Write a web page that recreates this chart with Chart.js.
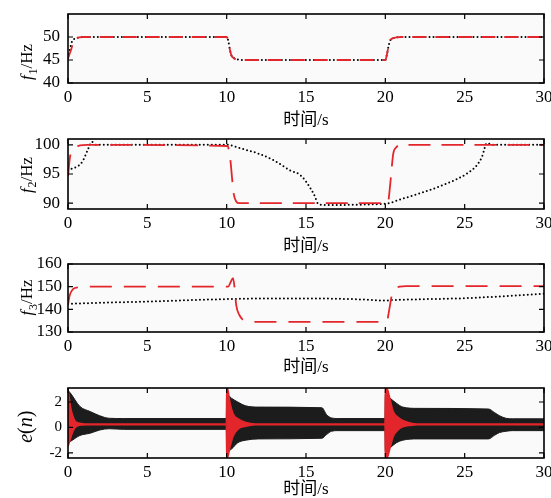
<!DOCTYPE html>
<html>
<head>
<meta charset="utf-8">
<script src="https://cdn.jsdelivr.net/npm/chart.js@4"></script>
<style>
html, body { margin: 0; padding: 0; background: #fff; }
#wrap { position: relative; width: 551px; height: 498px; overflow: hidden; }
canvas { position: absolute; left: 0; }
</style>
</head>
<body>
<div id="wrap">
  <canvas id="c1" width="551" height="129" style="top:0px"></canvas>
  <canvas id="c2" width="551" height="130" style="top:125px"></canvas>
  <canvas id="c3" width="551" height="126" style="top:250px"></canvas>
  <canvas id="c4" width="551" height="124" style="top:374px"></canvas>
</div>
<script>
const xTicks = [0, 5, 10, 15, 20, 25, 30];

// f1
const f1Ticks = [40, 45, 50];
const f1RefT = [0, 0.1, 0.23, 0.4, 0.7, 1.0, 10.0, 10.1, 10.2, 10.3, 10.45, 10.7, 11.0, 20.0, 20.1, 20.2, 20.3, 20.45, 20.7, 21.0, 30];
const f1Ref  = [45.5, 47.0, 48.8, 49.6, 49.9, 50, 50, 49.2, 47.3, 46.0, 45.4, 45.1, 45, 45, 46.2, 48.0, 49.2, 49.7, 49.9, 50, 50];
const f1EstT = [0, 0.1, 0.2, 0.3, 0.45, 0.7, 1.0, 10.0, 10.1, 10.2, 10.3, 10.45, 10.7, 11.0, 20.0, 20.1, 20.2, 20.3, 20.45, 20.7, 21.0, 30];
const f1Est  = [45.3, 46.3, 47.3, 48.5, 49.6, 49.9, 50, 50, 49.2, 47.3, 46.0, 45.4, 45.1, 45, 45, 46.2, 48.0, 49.2, 49.7, 49.9, 50, 50];

// f2
const f2Ticks = [90, 95, 100];
const f2RefT = [0, 0.3, 0.6, 0.9, 1.1, 1.3, 1.5, 1.8, 10.0, 11, 12, 13, 14, 14.6, 15, 15.5, 15.8, 16.2, 20.0, 21, 22.2, 23.9, 25.1, 25.8, 26.1, 26.4, 26.8, 30];
const f2Ref  = [95.6, 96.0, 96.3, 97.1, 98.2, 99.5, 100.5, 100, 100, 99.3, 98.5, 97.3, 95.6, 94.9, 93.7, 91.5, 89.8, 89.7, 89.9, 90.7, 91.7, 93.4, 95, 96.6, 98, 100.3, 100, 100];
const f2EstT = [0, 0.13, 0.25, 0.44, 0.76, 1.2, 10.05, 10.15, 10.25, 10.35, 10.45, 10.6, 10.8, 20.15, 20.3, 20.4, 20.5, 20.7, 21.0, 30];
const f2Est  = [94.6, 98.0, 98.9, 99.5, 99.9, 100, 99.8, 99.0, 97.0, 94.0, 91.5, 90.3, 90, 90, 93, 96, 98.5, 99.6, 100, 100];

// f3
const f3Ticks = [130, 140, 150, 160];
const f3RefT = [0, 2.5, 5, 7.5, 10, 12.7, 15, 18, 20, 20.5, 22, 25, 27.5, 30];
const f3Ref  = [142.4, 143, 143.4, 144, 144.5, 144.8, 144.8, 144.5, 143.9, 144.1, 144.4, 144.9, 145.8, 146.9];
const f3EstT = [0, 0.1, 0.3, 0.6, 1.0, 10.1, 10.25, 10.4, 10.5, 10.6, 10.8, 11.2, 11.6, 20.1, 20.2, 20.3, 20.4, 20.6, 20.9, 21.3, 30];
const f3Est  = [142, 146, 148.8, 149.7, 150, 150, 152, 153.8, 149.4, 142, 137.5, 134.8, 134.5, 134.5, 138, 142, 146, 149, 150, 150.2, 150.2];

// e(n): envelope of the error band (black) and of the red error
const eTicks = [-2, 0, 2];
const eBandT  = [0, 0.15, 0.75, 1.4, 2.0, 2.6, 3.5, 9.98, 10.0, 10.3, 10.7, 11.2, 12, 16.0, 16.3, 16.6, 17.0, 19.98, 20.0, 20.3, 20.7, 21.1, 22, 26.5, 26.9, 27.2, 27.6, 28, 30];
const eBandHi = [2.9, 2.7, 1.65, 1.25, 0.92, 0.72, 0.7, 0.7, 2.6, 2.3, 2.0, 1.7, 1.6, 1.55, 1.0, 0.75, 0.7, 0.7, 2.6, 2.3, 1.9, 1.6, 1.5, 1.45, 1.15, 0.92, 0.72, 0.68, 0.68];
const eBandLo = [-1.2, -1.1, -0.63, -0.45, -0.2, -0.1, -0.15, -0.15, -1.9, -1.7, -1.2, -1.0, -0.9, -0.85, -0.55, -0.3, -0.25, -0.25, -1.9, -1.6, -1.2, -1.0, -0.9, -0.9, -0.6, -0.4, -0.3, -0.25, -0.25];
const eRedT  = [0, 0.05, 0.15, 0.28, 0.45, 0.65, 0.9, 1.2, 9.98, 10.0, 10.05, 10.2, 10.4, 10.7, 11.2, 11.8, 19.98, 20.0, 20.1, 20.3, 20.5, 20.8, 21.1, 21.5, 22, 30];
const eRedHi = [3.1, 2.6, 1.7, 1.0, 0.5, 0.35, 0.3, 0.28, 0.28, 3.1, 3.1, 2.0, 1.1, 0.7, 0.4, 0.28, 0.28, 3.1, 3.1, 2.2, 1.25, 0.8, 0.55, 0.38, 0.28, 0.28];
const eRedLo = [-1.5, -1.3, -0.9, -0.4, 0.0, 0.15, 0.2, 0.22, 0.22, -2.4, -2.4, -1.6, -0.7, -0.15, 0.1, 0.22, 0.22, -2.4, -2.4, -1.6, -0.7, -0.2, 0.05, 0.15, 0.22, 0.22];

const serif = '"Liberation Serif", "Times New Roman", serif';
const red = '#e3262b';
const band = '#1c1c1c';

function pts(t, v) {
  return t.map((x, i) => ({x: x, y: v[i]}));
}

function partFont(p, size) {
  const s = p.sub ? size * 0.7 : size;
  return (p.italic ? 'italic ' : '') + s + 'px ' + serif;
}

// light background, box, inward ticks and the rich y label
const framePlugin = {
  id: 'frame',
  beforeDraw(chart) {
    const a = chart.chartArea, ctx = chart.ctx;
    ctx.save();
    ctx.fillStyle = '#fafafa';
    ctx.fillRect(a.left, a.top, a.right - a.left, a.bottom - a.top);
    ctx.restore();
  },
  afterDraw(chart, args, opts) {
    const a = chart.chartArea, ctx = chart.ctx;
    const xs = chart.scales.x, ys = chart.scales.y;
    ctx.save();
    ctx.strokeStyle = '#000';
    ctx.lineWidth = 1.2;
    ctx.beginPath();
    xTicks.forEach(v => {
      const px = xs.getPixelForValue(v);
      ctx.moveTo(px, a.bottom); ctx.lineTo(px, a.bottom - 5);
      ctx.moveTo(px, a.top); ctx.lineTo(px, a.top + 5);
    });
    opts.yTicks.forEach(v => {
      const py = ys.getPixelForValue(v);
      ctx.moveTo(a.left, py); ctx.lineTo(a.left + 5, py);
      ctx.moveTo(a.right, py); ctx.lineTo(a.right - 5, py);
    });
    ctx.stroke();
    ctx.lineWidth = 1.6;
    ctx.strokeRect(a.left, a.top, a.right - a.left, a.bottom - a.top);

    // rotated y label
    const size = opts.labelSize;
    ctx.translate(opts.labelX, opts.labelY);
    ctx.rotate(-Math.PI / 2);
    ctx.textBaseline = 'alphabetic';
    ctx.fillStyle = '#000';
    let w = 0;
    opts.label.forEach(p => {
      ctx.font = partFont(p, size);
      p.w = ctx.measureText(p.t).width + (p.kern || 0);
      w += p.w;
    });
    let cx = -w / 2;
    opts.label.forEach(p => {
      ctx.font = partFont(p, size);
      ctx.fillText(p.t, cx, p.sub ? size * 0.28 : 0);
      cx += p.w;
    });
    ctx.restore();
  }
};

function makeChart(id, datasets, yMin, yMax, yTicks, cfg) {
  return new Chart(document.getElementById(id), {
    type: 'line',
    data: {datasets: datasets},
    plugins: [framePlugin],
    options: {
      responsive: false,
      animation: false,
      layout: {padding: {top: cfg.padTop, right: 7, left: 0, bottom: 0}},
      elements: {point: {radius: 0}},
      plugins: {
        legend: {display: false},
        tooltip: {enabled: false},
        frame: {yTicks: yTicks, label: cfg.label, labelX: cfg.labelX, labelY: cfg.labelY, labelSize: cfg.labelSize}
      },
      scales: {
        x: {
          type: 'linear', min: 0, max: 30,
          afterBuildTicks: s => { s.ticks = xTicks.map(v => ({value: v})); },
          afterFit: s => { s.height = cfg.axisH; s.paddingLeft = 0; s.paddingRight = 0; },
          grid: {display: false, drawTicks: false},
          border: {display: false},
          ticks: {font: {family: serif, size: 17}, color: '#000', padding: 4, maxRotation: 0, autoSkip: false,
                  callback: v => String(v)},
          title: {display: true, text: '时间/s', color: '#000',
                  font: {family: '"Liberation Serif", "Noto Sans CJK SC", serif', size: 17, lineHeight: 1},
                  padding: {top: 0, bottom: 0}}
        },
        y: {
          type: 'linear', min: yMin, max: yMax,
          afterBuildTicks: s => { s.ticks = yTicks.map(v => ({value: v})); },
          afterFit: s => { s.width = 68; s.paddingTop = 0; s.paddingBottom = 0; },
          grid: {display: false, drawTicks: false},
          border: {display: false},
          ticks: {font: {family: serif, size: cfg.yFont}, color: '#000', padding: cfg.yPad, autoSkip: false,
                  callback: v => String(v)}
        }
      }
    }
  });
}

function estLine(t, v, dash) {
  return {data: pts(t, v), borderColor: red, borderWidth: 1.8, borderDash: dash,
          cubicInterpolationMode: 'monotone', fill: false, order: 0};
}
function refLine(t, v) {
  return {data: pts(t, v), borderColor: '#000', borderWidth: 2, borderDash: [0, 4], borderCapStyle: 'round',
          cubicInterpolationMode: 'monotone', fill: false, order: 1};
}

makeChart('c1', [estLine(f1EstT, f1Est, [14, 9]), refLine(f1RefT, f1Ref)], 40, 55, f1Ticks,
  {padTop: 14, axisH: 46, yFont: 17, yPad: 8, labelX: 32, labelY: 62, labelSize: 17,
   label: [{t: 'f', italic: true, kern: 1}, {t: '1', sub: true}, {t: '/Hz'}]});

makeChart('c2', [estLine(f2EstT, f2Est, [22, 11]), refLine(f2RefT, f2Ref)], 89, 101, f2Ticks,
  {padTop: 14, axisH: 46, yFont: 17, yPad: 8, labelX: 31.5, labelY: 50, labelSize: 17,
   label: [{t: 'f', italic: true, kern: 1}, {t: '2', sub: true}, {t: '/Hz'}]});

makeChart('c3', [estLine(f3EstT, f3Est, [22, 12]), refLine(f3RefT, f3Ref)], 130, 160, f3Ticks,
  {padTop: 14, axisH: 44, yFont: 17, yPad: 6, labelX: 32, labelY: 47.5, labelSize: 17,
   label: [{t: 'f', italic: true, kern: 1}, {t: '3', sub: true}, {t: '/Hz'}]});

makeChart('c4', [
  {data: pts(eRedT, eRedHi), borderColor: red, backgroundColor: red, borderWidth: 1.5,
   fill: '+1', order: 0, cubicInterpolationMode: 'monotone'},
  {data: pts(eRedT, eRedLo), borderColor: red, borderWidth: 1.5, fill: false, order: 0,
   cubicInterpolationMode: 'monotone'},
  {data: pts(eBandT, eBandHi), borderColor: band, backgroundColor: band, borderWidth: 1,
   fill: '+1', order: 1, cubicInterpolationMode: 'monotone'},
  {data: pts(eBandT, eBandLo), borderColor: band, borderWidth: 1, fill: false, order: 1,
   cubicInterpolationMode: 'monotone'}
], -2.4, 3.1, eTicks,
  {padTop: 14, axisH: 40, yFont: 15, yPad: 6, labelX: 31.5, labelY: 52.7, labelSize: 20,
   label: [{t: 'e', italic: true}, {t: '('}, {t: 'n', italic: true}, {t: ')'}]});
</script>
</body>
</html>
